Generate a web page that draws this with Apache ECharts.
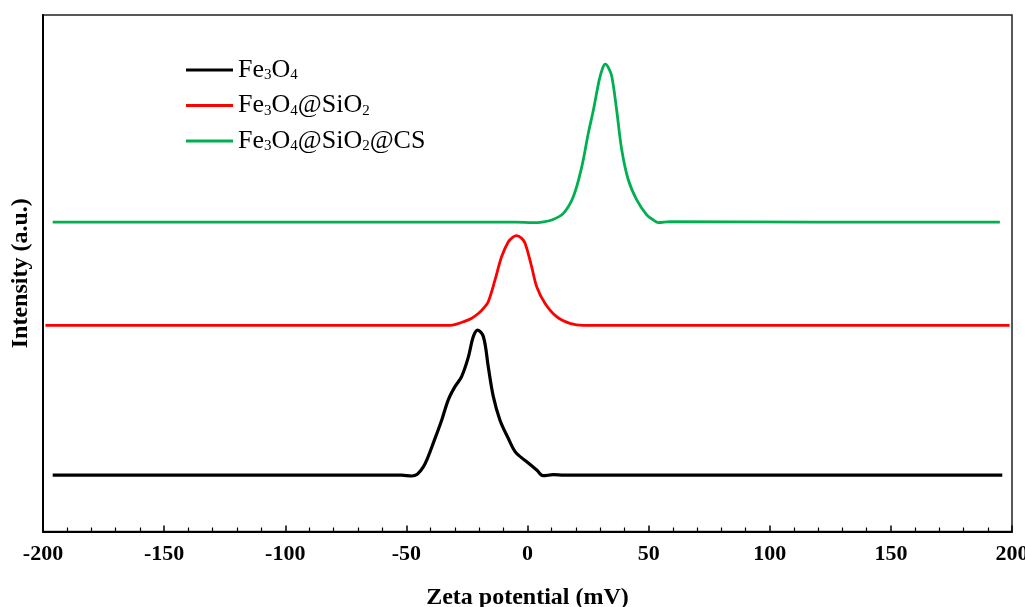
<!DOCTYPE html>
<html>
<head>
<meta charset="utf-8">
<title>Zeta potential</title>
<script src="https://cdn.jsdelivr.net/npm/echarts@6/dist/echarts.min.js"></script>
<style>
  html, body { margin: 0; padding: 0; background: #fff; }
  #chart { width: 1025px; height: 607px; }
</style>
</head>
<body>
<div id="chart"></div>
<script>
// Zeta potential distributions, stacked with vertical offsets (arbitrary units)
const seriesNames = ['Fe3O4', 'Fe3O4@SiO2', 'Fe3O4@SiO2@CS'];
const seriesColors = ['#000000', '#ff0000', '#00b050'];

const fe3o4X = [-196, -120, -60, -52, -47.8, -45.5, -43, -41, -38.9, -35.4, -32.7, -30, -27.2, -24.4, -22.4, -20.6, -18.2, -16.2, -14.1, -11.4, -7.9, -5.2, -2.5, -0.3, 3.8, 6.5, 10.6, 15, 60, 196];
const fe3o4Y = [10.9, 10.9, 10.9, 10.9, 10.75, 11.1, 12.5, 14.5, 17.1, 21.6, 25.5, 28.0, 30.0, 33.8, 37.7, 39.0, 37.7, 31.9, 26.1, 21.6, 18.0, 15.5, 14.3, 13.5, 11.9, 10.8, 11.0, 10.9, 10.9, 10.9];

const fe3o4SiO2X = [-199, -120, -60, -35, -32, -29, -26.5, -23, -20.3, -18, -16.2, -13.4, -10.7, -7.9, -6, -4.5, -2.5, -1, 1.7, 3.8, 7.2, 12, 17.5, 23, 60, 199];
const fe3o4SiO2Y = [39.9, 39.9, 39.9, 39.9, 39.9, 40.2, 40.6, 41.3, 42.2, 43.3, 44.5, 48.7, 53.2, 56.1, 57.0, 57.3, 56.8, 55.8, 51.3, 47.4, 44.2, 41.6, 40.3, 39.9, 39.9, 39.9];

const fe3o4SiO2CSX = [-196, -120, -60, -5, 2.4, 6, 10, 14.8, 18.9, 22.4, 25.1, 27.2, 29.6, 31, 32.1, 33.3, 34.8, 36.8, 38.9, 41.6, 45.1, 49.2, 52, 54, 58.8, 120, 195];
const fe3o4SiO2CSY = [59.9, 59.9, 59.9, 59.9, 59.8, 59.9, 60.3, 61.6, 64.8, 70.6, 77.1, 81.6, 87.4, 89.7, 90.5, 89.9, 88.1, 81.6, 73.9, 68.1, 64.2, 61.3, 60.3, 59.8, 60.0, 59.9, 59.9];

const xTicks = { min: -200, max: 200, interval: 50 };

const curves = [
  [fe3o4X, fe3o4Y],
  [fe3o4SiO2X, fe3o4SiO2Y],
  [fe3o4SiO2CSX, fe3o4SiO2CSY]
];
const lineWidths = [3.2, 2.8, 2.8];

// Digits in chemical formulas become subscripts through rich text
function formula(name) {
  return name.replace(/(\d)/g, '{sub|$1}');
}

const serif = '"Liberation Serif", "Times New Roman", serif';

const chart = echarts.init(document.getElementById('chart'), null, { renderer: 'canvas' });

chart.setOption({
  animation: false,
  backgroundColor: '#ffffff',
  grid: {
    left: 43, right: 13, top: 15, bottom: 75.5,
    containLabel: false,
    outerBoundsMode: 'none',
    show: true, borderColor: '#222', borderWidth: 1.5
  },
  legend: {
    orient: 'vertical',
    left: 186, top: 57,
    padding: 0,
    itemWidth: 47, itemHeight: 3.2, itemGap: 9.5,
    icon: 'rect',
    data: seriesNames,
    formatter: function (name) { return formula(name); },
    textStyle: {
      fontFamily: serif, fontSize: 26, color: '#000',
      rich: {
        sub: { fontFamily: serif, fontSize: 15, color: '#000', verticalAlign: 'bottom', padding: [8, 0, 0, 0] }
      }
    }
  },
  xAxis: {
    type: 'value',
    min: xTicks.min, max: xTicks.max, interval: xTicks.interval,
    name: 'Zeta potential (mV)',
    nameLocation: 'middle', nameGap: 54,
    nameTextStyle: { fontFamily: serif, fontSize: 24, fontWeight: 'bold', color: '#000' },
    axisLine: { show: true, onZero: false, lineStyle: { color: '#000', width: 2 } },
    axisTick: { show: true, inside: true, length: 6, lineStyle: { color: '#000', width: 1.5 } },
    minorTick: { show: true, splitNumber: 5, length: 4, lineStyle: { color: '#000', width: 1.2 } },
    axisLabel: { fontFamily: serif, fontSize: 22, fontWeight: 'bold', color: '#000', margin: 12 },
    splitLine: { show: false },
    minorSplitLine: { show: false }
  },
  yAxis: {
    type: 'value',
    min: 0, max: 100,
    name: 'Intensity (a.u.)',
    nameLocation: 'middle', nameGap: 10,
    nameTextStyle: { fontFamily: serif, fontSize: 24, fontWeight: 'bold', color: '#000' },
    axisLine: { show: true, onZero: false, lineStyle: { color: '#000', width: 2 } },
    axisTick: { show: false },
    axisLabel: { show: false },
    splitLine: { show: false }
  },
  series: seriesNames.map(function (name, i) {
    const xs = curves[i][0], ys = curves[i][1];
    return {
      name: name,
      type: 'line',
      smooth: 0.35,
      symbol: 'none',
      color: seriesColors[i],
      lineStyle: { color: seriesColors[i], width: lineWidths[i] },
      data: xs.map(function (x, k) { return [x, ys[k]]; })
    };
  })
});
</script>
</body>
</html>
